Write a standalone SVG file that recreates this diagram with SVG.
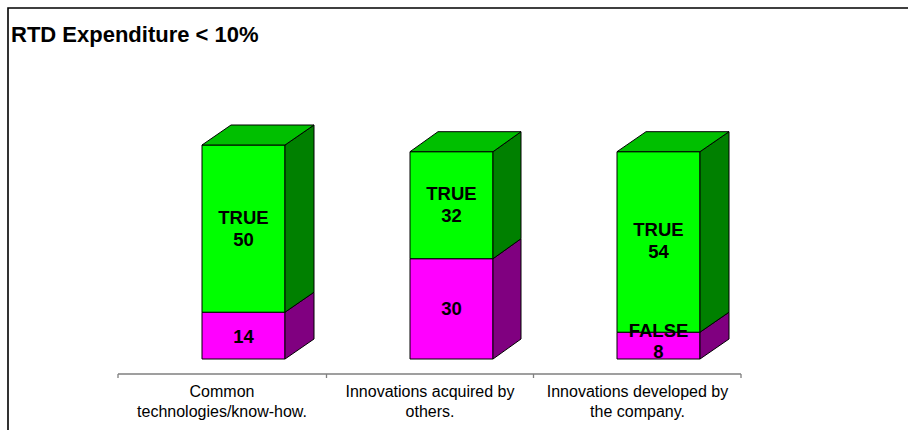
<svg xmlns="http://www.w3.org/2000/svg" width="908" height="430" viewBox="0 0 908 430">
<style>
.edge{stroke:#000;stroke-width:1;stroke-linejoin:round}
.gf{fill:#00FF00}.gt{fill:#00BF00}.gs{fill:#008000}
.pf{fill:#FF00FF}.ps{fill:#800080}
.v{font-family:"Liberation Sans",Arial,sans-serif;font-weight:bold;font-size:18.5px;fill:#000;text-anchor:middle}
.c{font-family:"Liberation Sans",Arial,sans-serif;font-size:16px;fill:#000;text-anchor:middle}
.t{font-family:"Liberation Sans",Arial,sans-serif;font-weight:bold;font-size:22px;fill:#000}
.ax{stroke:#808080;stroke-width:1.3;fill:none}
</style>
<rect x="0" y="0" width="908" height="430" fill="#fff"/>
<path d="M8,430 V8 H908" fill="none" stroke="#000" stroke-width="1.6"/>
<text class="t" x="11" y="42">RTD Expenditure &lt; 10%</text>

<g id="axis">
<path class="ax" d="M118,374 H741 M118,374 V378 M326.5,374 V378 M533.5,374 V378 M741,374 V378"/>
</g>

<g id="bar1">
<polygon class="pf edge" points="202,312.2 285,312.2 285,359 202,359"/>
<polygon class="ps edge" points="285,312.2 314,292.2 314,339 285,359"/>
<polygon class="gf edge" points="202,145 285,145 285,312.2 202,312.2"/>
<polygon class="gs edge" points="285,145 314,125 314,292.2 285,312.2"/>
<polygon class="gt edge" points="202,145 231,125 314,125 285,145"/>
<text class="v" x="243.5" y="224.3">TRUE</text>
<text class="v" x="243.5" y="245.7">50</text>
<text class="v" x="243.5" y="342.5">14</text>
</g>

<g id="bar2">
<polygon class="pf edge" points="410,258.7 493,258.7 493,359 410,359"/>
<polygon class="ps edge" points="493,258.7 521,238.7 521,339 493,359"/>
<polygon class="gf edge" points="410,151.7 493,151.7 493,258.7 410,258.7"/>
<polygon class="gs edge" points="493,151.7 521,131.7 521,238.7 493,258.7"/>
<polygon class="gt edge" points="410,151.7 438,131.7 521,131.7 493,151.7"/>
<text class="v" x="451.5" y="199.5">TRUE</text>
<text class="v" x="451.5" y="221.5">32</text>
<text class="v" x="451.5" y="315.2">30</text>
</g>

<g id="bar3">
<polygon class="pf edge" points="617,332.2 700,332.2 700,359 617,359"/>
<polygon class="ps edge" points="700,332.2 729,312.2 729,339 700,359"/>
<polygon class="gf edge" points="617,151.7 700,151.7 700,332.2 617,332.2"/>
<polygon class="gs edge" points="700,151.7 729,131.7 729,312.2 700,332.2"/>
<polygon class="gt edge" points="617,151.7 646,131.7 729,131.7 700,151.7"/>
<text class="v" x="658.5" y="236">TRUE</text>
<text class="v" x="658.5" y="258.3">54</text>
<text class="v" x="658.5" y="337.3">FALSE</text>
<text class="v" x="658.5" y="358.3">8</text>
</g>

<g id="labels">
<text class="c" x="222" y="397.3">Common</text>
<text class="c" x="222" y="416.7">technologies/know-how.</text>
<text class="c" x="430" y="397.3">Innovations acquired by</text>
<text class="c" x="430" y="416.7">others.</text>
<text class="c" x="637.5" y="397.3">Innovations developed by</text>
<text class="c" x="637.5" y="416.7">the company.</text>
</g>
</svg>
